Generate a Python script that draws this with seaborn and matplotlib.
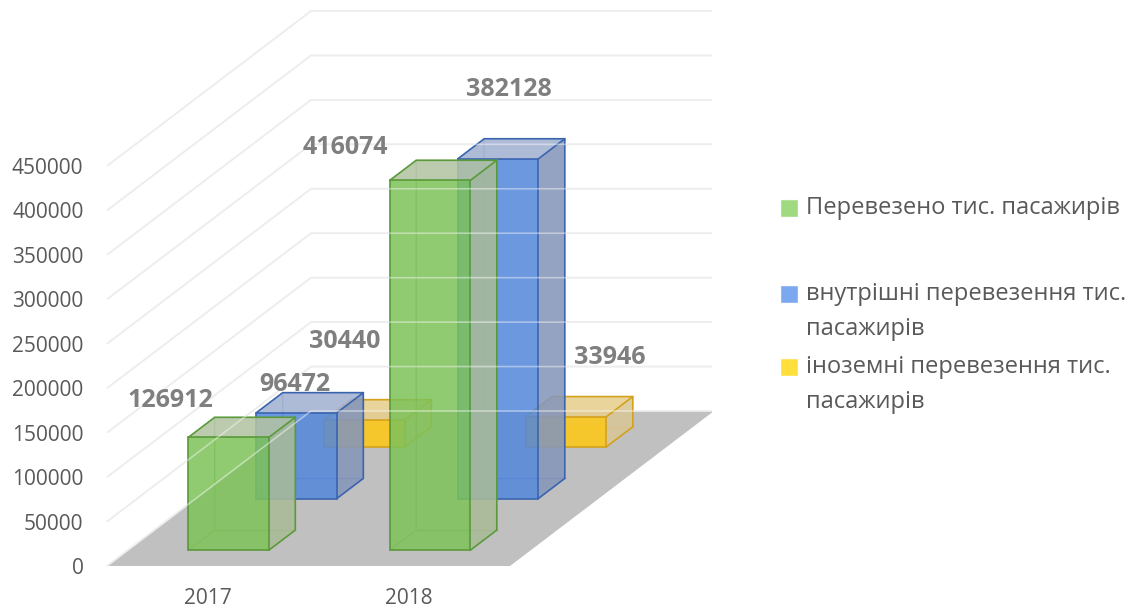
import matplotlib
matplotlib.use("Agg")
import matplotlib.pyplot as plt
import numpy as np
import pandas as pd
import seaborn as sns
from matplotlib.patches import Polygon, Rectangle

# ---- data -------------------------------------------------------------
years = ["2017", "2018"]
series = ["Перевезено тис. пасажирів",
          "внутрішні перевезення тис. пасажирів",
          "іноземні перевезення тис. пасажирів"]
carried = [126912, 416074]
domestic = [96472, 382128]
foreign = [30440, 33946]
y_ticks = [0, 50000, 100000, 150000, 200000, 250000, 300000, 350000, 400000, 450000]
legend_labels = ["Перевезено тис. пасажирів",
                 "внутрішні перевезення тис.\nпасажирів",
                 "іноземні перевезення тис.\nпасажирів"]

df = pd.DataFrame({
    "year": years * 3,
    "series": [series[0]] * 2 + [series[1]] * 2 + [series[2]] * 2,
    "value": carried + domestic + foreign,
})

# ---- styling ----------------------------------------------------------
sns.set_theme(style="white")
plt.rcParams["font.family"] = ["Open Sans", "DejaVu Sans"]

front_col = ["#7ec25a", "#5387da", "#ffc914"]
edge_col = ["#5a9a3a", "#3a64b0", "#d4a21a"]
top_col = ["#b3c3a3", "#a3b2d2", "#e6cf8e"]
side_col = ["#a9bb98", "#8596ba", "#d8c697"]
legend_col = ["#9fd980", "#7ca8ef", "#ffdf3a"]
text_grey = "#595959"
label_grey = "#7f7f7f"

W, H = 1132, 607
fig = plt.figure(figsize=(W / 100, H / 100), dpi=100)
fig.patch.set_facecolor("white")

# axes: front-left corner of the floor at (107, 566) px, back wall top at 12 px
ax_left, ax_bottom, ax_w, ax_h = 107, H - 566, 605, 554
ax = fig.add_axes([ax_left / W, ax_bottom / H, ax_w / W, ax_h / H])

PX_PER_CAT = 201.5            # pixels per category step
PX_PER_VAL = 400 / 450000     # pixels per passenger unit
DEPTH_X = 204 / PX_PER_CAT    # full floor depth, in category units
DEPTH_Y = 155 / PX_PER_VAL    # full floor depth, in value units

x_lo, x_hi = -0.5, -0.5 + ax_w / PX_PER_CAT

# front faces of all bars
sns.barplot(data=df, x="year", y="value", hue="series", order=years,
            hue_order=series, dodge=False, width=0.4, palette=front_col,
            saturation=1, errorbar=None, legend=False, ax=ax)
ax.set_xlim(x_lo, x_hi)
ax.set_ylim(0, ax_h / PX_PER_VAL)

# floor
floor = Polygon([(-0.5, 0), (1.5, 0), (1.5 + DEPTH_X, DEPTH_Y),
                 (-0.5 + DEPTH_X, DEPTH_Y)], closed=True,
                facecolor="#c0c0c0", edgecolor="none", zorder=1)
ax.add_patch(floor)

# walls' gridlines: diagonal on the left wall, horizontal on the back wall
def grid_paths():
    for v in y_ticks:
        yield ([x_lo, x_lo + DEPTH_X, x_hi], [v, v + DEPTH_Y, v + DEPTH_Y])

for xs, ys in grid_paths():
    ax.plot(xs, ys, color="#e0e0e0", lw=1.2, zorder=2, solid_capstyle="butt",
            clip_on=False)

# 3‑D boxes: series sit at different depths along the floor
depth_center = [1 / 6, 1 / 2, 5 / 6]
box_depth = 0.13
label_offsets = {  # offset points from the front top centre of each bar
    (0, 0): (-41.8, 26.6), (0, 1): (-61.2, 23.8),
    (1, 0): (-1.1, 20.2), (1, 1): (7.9, 49.7),
    (2, 0): (-14.4, 56.2), (2, 1): (31.7, 42.5),
}
series_values = [carried, domestic, foreign]

for i, cont in enumerate(ax.containers):
    f = depth_center[i] - box_depth / 2
    dx, dy = box_depth * DEPTH_X, box_depth * DEPTH_Y
    z = 30 - 10 * i
    for j, rect in enumerate(cont.patches):
        x0 = rect.get_x() + f * DEPTH_X
        yb = rect.get_y() + f * DEPTH_Y
        w = rect.get_width()
        h = rect.get_height()
        x1, yt = x0 + w, yb + h
        rect.set_x(x0)
        rect.set_y(yb)
        rect.set_alpha(None)
        rect.set_facecolor(matplotlib.colors.to_rgba(front_col[i], 0.86))
        rect.set_edgecolor(edge_col[i])
        rect.set_linewidth(1.2)
        rect.set_zorder(z + 3)
        # hidden edges seen through the transparent faces
        ax.plot([x0, x0 + dx, x0 + dx], [yb, yb + dy, yt + dy],
                color=edge_col[i], lw=1.0, alpha=0.6, zorder=z + 1)
        ax.plot([x0 + dx, x1 + dx], [yb + dy, yb + dy],
                color=edge_col[i], lw=1.0, alpha=0.6, zorder=z + 1)
        # right side
        ax.add_patch(Polygon([(x1, yb), (x1 + dx, yb + dy), (x1 + dx, yt + dy), (x1, yt)],
                             closed=True, facecolor=side_col[i], alpha=0.88,
                             edgecolor="none", zorder=z + 2))
        # top
        ax.add_patch(Polygon([(x0, yt), (x1, yt), (x1 + dx, yt + dy), (x0 + dx, yt + dy)],
                             closed=True, facecolor=top_col[i], alpha=0.88,
                             edgecolor="none", zorder=z + 2))
        ax.plot([x1, x1 + dx, x1 + dx, x1], [yb, yb + dy, yt + dy, yt],
                color=edge_col[i], lw=1.2, zorder=z + 4)
        ax.plot([x0, x0 + dx, x1 + dx], [yt, yt + dy, yt + dy],
                color=edge_col[i], lw=1.2, zorder=z + 4)
        # value label
        val = series_values[i][j]
        ax.annotate(f"{val}", xy=(x0 + w / 2, yb + val), xytext=label_offsets[(i, j)],
                    textcoords="offset points", ha="center", va="center",
                    fontsize=18, fontweight="bold", color=label_grey,
                    zorder=60, annotation_clip=False)

# gridlines glint through the translucent bars
for xs, ys in grid_paths():
    ax.plot(xs, ys, color="white", lw=1.2, alpha=0.45, zorder=50,
            solid_capstyle="butt", clip_on=False)

# axes decoration
for s in ax.spines.values():
    s.set_visible(False)
ax.set_yticks(y_ticks)
ax.set_yticklabels([str(t) for t in y_ticks])
ax.set_xticks(range(len(years)))
ax.set_xticklabels(years)
ax.tick_params(axis="y", length=0, pad=17, labelsize=15, labelcolor=text_grey)
ax.tick_params(axis="x", length=0, pad=16, labelsize=15, labelcolor=text_grey)
ax.set_xlabel("")
ax.set_ylabel("")
ax.grid(False)
ax.set_facecolor("none")

# legend
entry_y = [208, 294, 367]
for lab, col, yc in zip(legend_labels, legend_col, entry_y):
    fig.patches.append(Rectangle((781 / W, 1 - (yc + 8) / H), 16 / W, 16 / H,
                                 transform=fig.transFigure, facecolor=col,
                                 edgecolor=matplotlib.colors.to_rgba(col, 0.6),
                                 lw=0.8))
    for k, line in enumerate(lab.split("\n")):
        fig.text(806 / W, 1 - (yc + 35 * k) / H, line, ha="left", va="center",
                 fontsize=17, color=text_grey)

fig.savefig("out.png", dpi=100, facecolor="white")
